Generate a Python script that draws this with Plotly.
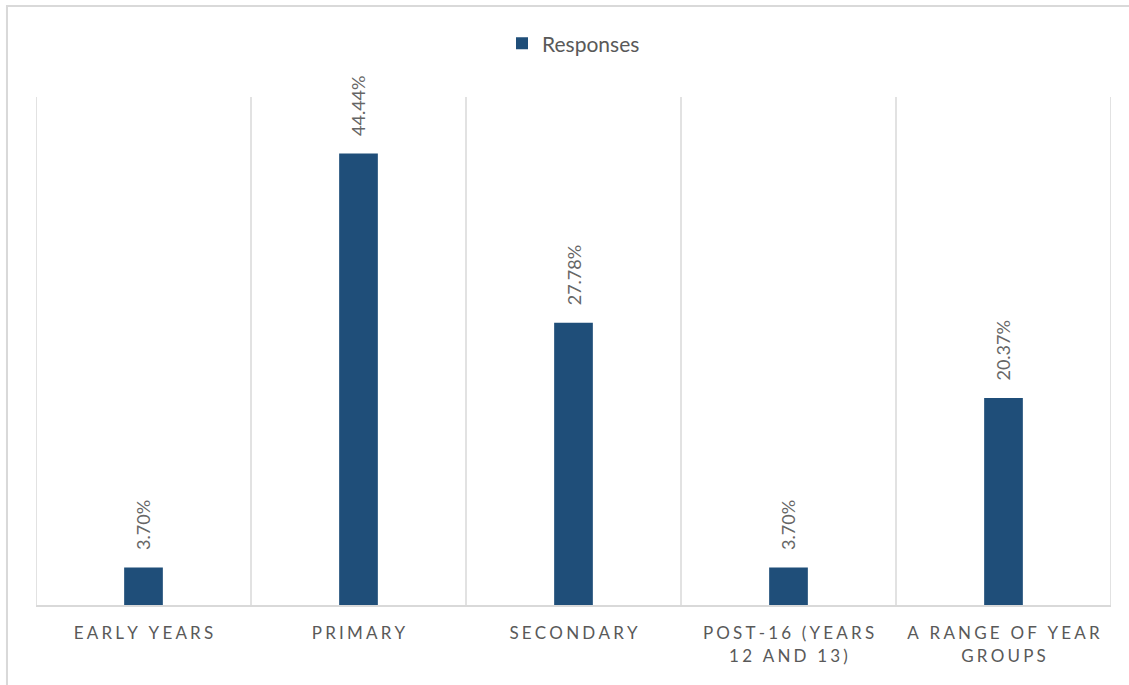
import plotly.graph_objects as go

categories = ["EARLY YEARS", "PRIMARY", "SECONDARY",
              "POST-16 (YEARS<br>12 AND 13)", "A RANGE OF YEAR<br>GROUPS"]
responses = [3.70, 44.44, 27.78, 3.70, 20.37]

BAR = "#1F4E79"
GRID = "#d9d9d9"
TXT = "#595959"
FONT = "Lato, 'Open Sans', sans-serif"


def spaced(label):
    # widen the category labels with thin + hair spaces between letters
    lines = label.split("<br>")
    return "<br>".join("\u2009\u200a".join(list(l)) for l in lines)


tick_text = [spaced(c) for c in categories]
x_pos = list(range(len(categories)))

fig = go.Figure()
fig.add_trace(go.Bar(
    x=x_pos, y=responses, name="Responses",
    marker=dict(color=BAR, line=dict(width=0)),
    showlegend=True,
))

for xi, v in zip(x_pos, responses):
    fig.add_annotation(
        x=xi, y=v, text=f"{v:.2f}%", textangle=-90,
        showarrow=False, xanchor="center", yanchor="bottom", yshift=15,
        font=dict(family=FONT, size=18, color="#666666"),
    )

# outer chart frame
fig.add_shape(type="rect", xref="paper", yref="paper",
              x0=-0.027, x1=1.025, y0=-0.17, y1=1.179,
              line=dict(color=GRID, width=2), fillcolor="rgba(0,0,0,0)", layer="below")

fig.update_layout(
    width=1129, height=685,
    margin=dict(l=36, r=18, t=97, b=80),
    paper_bgcolor="white", plot_bgcolor="white",
    bargap=0.82,
    font=dict(family=FONT, color=TXT),
    legend=dict(orientation="h", x=0.5, xanchor="center", y=1.105, yanchor="middle",
                font=dict(family=FONT, size=21, color=TXT), itemwidth=30),
    xaxis=dict(
        range=[-0.5, len(categories) - 0.5],
        tickmode="array", tickvals=x_pos, ticktext=tick_text,
        showgrid=False, ticks="", showline=True, linecolor=GRID, linewidth=2,
        tickfont=dict(family=FONT, size=17, color=TXT),
        ticklabelstandoff=12,
        zeroline=False,
    ),
    yaxis=dict(range=[0, 50], showgrid=False, showticklabels=False,
               zeroline=False, showline=False, ticks=""),
)

# vertical separators at the category boundaries
for b in [i - 0.5 for i in range(len(categories) + 1)]:
    fig.add_shape(type="line", xref="x", yref="paper", x0=b, x1=b, y0=0, y1=1,
                  line=dict(color=GRID, width=1.5), layer="below")

fig.write_html("out.html")
